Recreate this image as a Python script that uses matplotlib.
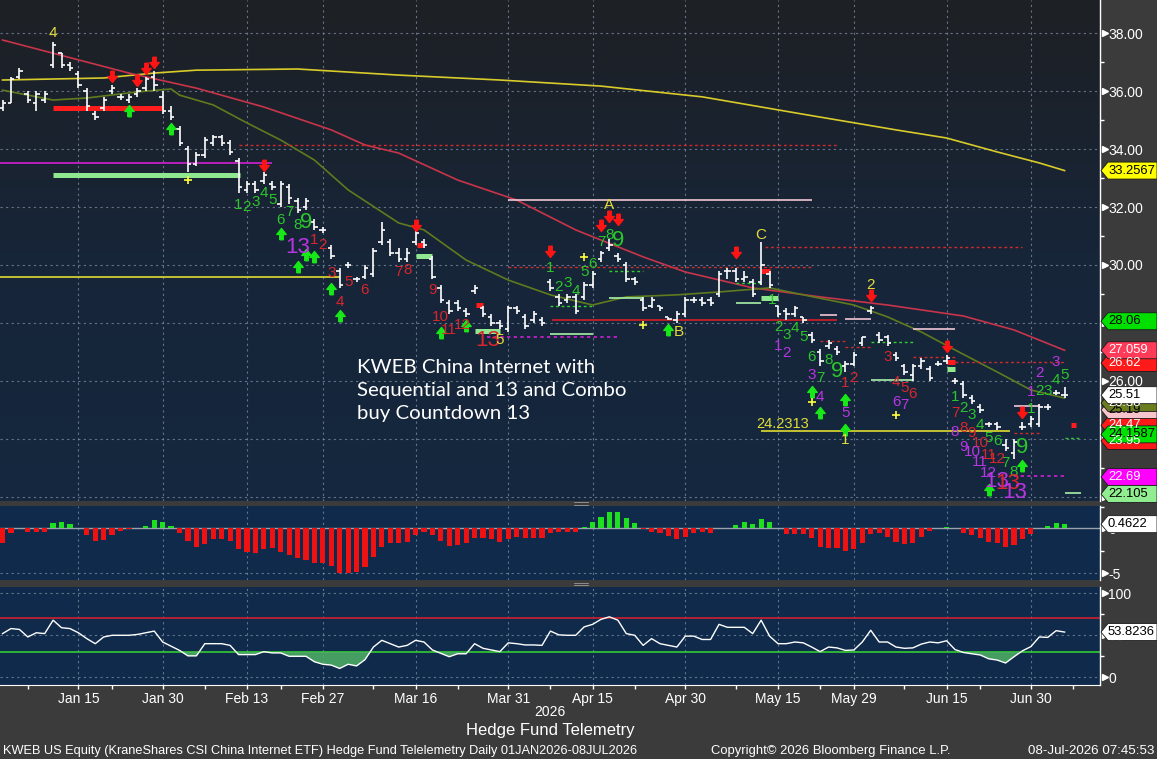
import numpy as np
import pandas as pd
import matplotlib
matplotlib.use("Agg")
import matplotlib.pyplot as plt
import matplotlib.transforms as mtransforms
from matplotlib.path import Path
from matplotlib.patches import Polygon
from matplotlib.lines import Line2D
from matplotlib.colors import LinearSegmentedColormap

plt.rcParams["font.family"] = ["Liberation Sans", "DejaVu Sans"]

# ---------------- data ----------------
holidays = ["2026-01-19", "2026-02-16", "2026-04-03", "2026-05-25", "2026-06-19", "2026-07-03"]
tick_dates = ["2026-01-15", "2026-01-30", "2026-02-13", "2026-02-27", "2026-03-16", "2026-03-31",
              "2026-04-15", "2026-04-30", "2026-05-15", "2026-05-29", "2026-06-15", "2026-06-30"]
minor_dates = ["2026-01-07", "2026-01-22", "2026-02-06", "2026-02-20", "2026-03-09", "2026-03-23",
               "2026-04-08", "2026-04-22", "2026-05-08", "2026-05-22", "2026-06-08", "2026-06-22",
               "2026-07-08"]

highs = [35.7, 36.5, 36.8, 36.0, 36.0, 36.0, 37.7, 37.3, 37.0, 36.7,
         36.1, 35.3, 35.8, 36.2, 35.9, 35.9, 36.1, 36.5, 36.7, 36.0,
         35.5, 34.8, 34.1, 33.9, 34.4, 34.5, 34.5, 34.3, 33.7, 32.9,
         32.9, 33.2, 32.9, 32.9, 32.8, 32.3, 32.3, 31.6, 31.3, 30.7,
         29.9, 30.1, 29.6, 30.0, 30.6, 31.5, 30.9, 30.6, 30.6, 31.5,
         30.9, 30.3, 29.3, 28.8, 28.8, 28.5, 29.3, 28.6, 28.3, 28.1,
         28.6, 28.6, 28.3, 28.4, 28.2, 29.5, 29.0, 29.0, 29.0, 29.4,
         29.8, 30.5, 30.9, 30.4, 30.1, 29.6, 28.9, 28.9, 28.6, 28.2,
         28.4, 28.9, 28.9, 28.9, 28.9, 29.8, 29.9, 29.9, 29.8, 29.5,
         30.8, 29.8, 28.6, 28.5, 28.6, 28.2, 27.7, 27.1, 27.4, 27.2,
         26.7, 27.0, 27.5, 28.6, 27.7, 27.6, 27.0, 26.6, 26.6, 26.8,
         26.5, 26.7, 26.9, 26.1, 26.0, 25.5, 25.2, 24.6, 24.6, 24.0,
         24.0, 24.6, 24.8, 25.2, 25.2, 25.7, 25.8]
lows = [35.3, 35.6, 36.4, 35.6, 35.3, 35.6, 36.8, 36.8, 36.7, 36.1,
        35.3, 35.0, 35.3, 35.9, 35.7, 35.6, 35.8, 36.0, 36.0, 35.2,
        35.0, 34.1, 33.2, 33.4, 33.7, 34.1, 34.1, 33.8, 32.5, 32.5,
        32.5, 32.8, 32.6, 32.0, 32.1, 31.8, 31.9, 31.2, 31.1, 30.2,
        29.2, 29.9, 29.4, 29.5, 29.6, 30.7, 30.3, 30.1, 30.1, 30.7,
        30.6, 29.5, 28.7, 28.3, 28.4, 28.2, 29.0, 28.2, 27.9, 27.8,
        27.7, 28.3, 27.8, 28.0, 27.9, 29.1, 28.6, 28.7, 28.3, 28.8,
        29.2, 30.1, 30.5, 30.1, 29.4, 29.3, 28.4, 28.5, 28.4, 28.1,
        28.0, 28.2, 28.7, 28.6, 28.6, 28.9, 29.5, 29.4, 29.4, 28.9,
        29.3, 29.2, 28.2, 28.1, 28.2, 28.0, 27.3, 26.5, 27.1, 26.9,
        26.3, 26.5, 27.2, 28.3, 27.3, 27.2, 26.7, 26.2, 26.0, 26.4,
        26.0, 26.5, 26.6, 25.9, 25.4, 25.2, 24.9, 24.4, 24.3, 23.6,
        23.3, 24.3, 24.4, 24.4, 25.0, 25.5, 25.4]
opens = [35.4, 35.6, 36.5, 35.9, 35.6, 35.7, 36.9, 37.3, 36.9, 36.6,
         36.0, 35.2, 35.4, 36.0, 35.8, 35.7, 35.9, 36.1, 36.5, 35.8,
         35.3, 34.7, 34.0, 33.5, 33.8, 34.2, 34.4, 34.2, 33.6, 32.6,
         32.8, 32.9, 32.8, 32.1, 32.7, 32.2, 32.0, 31.5, 31.2, 30.6,
         29.8, 30.0, 29.5, 29.6, 29.7, 30.8, 30.8, 30.4, 30.2, 30.8,
         30.8, 30.2, 29.2, 28.7, 28.7, 28.4, 29.1, 28.5, 28.2, 28.0,
         27.8, 28.5, 28.2, 28.1, 28.1, 29.4, 28.9, 28.8, 28.9, 28.9,
         29.3, 30.2, 30.6, 30.3, 30.0, 29.5, 28.8, 28.6, 28.6, 28.2,
         28.1, 28.3, 28.8, 28.8, 28.8, 29.0, 29.8, 29.8, 29.5, 29.4,
         29.4, 29.7, 28.6, 28.4, 28.3, 28.2, 27.6, 27.0, 27.2, 27.1,
         26.5, 26.6, 27.3, 28.4, 27.6, 27.5, 26.9, 26.5, 26.2, 26.5,
         26.4, 26.6, 26.7, 26.0, 25.9, 25.4, 25.1, 24.5, 24.5, 23.8,
         23.5, 24.4, 24.5, 24.5, 25.1, 25.6, 25.5]
closes = [35.6, 36.4, 36.7, 35.7, 35.9, 35.9, 37.6, 36.9, 36.8, 36.2,
          35.5, 35.1, 35.7, 36.1, 35.8, 35.8, 36.0, 36.4, 36.2, 35.3,
          35.1, 34.2, 33.5, 33.8, 34.3, 34.4, 34.2, 33.9, 32.7, 32.8,
          32.6, 33.1, 32.7, 32.8, 32.3, 31.9, 32.2, 31.3, 31.2, 30.3,
          29.3, 30.0, 29.5, 29.9, 30.5, 31.2, 30.4, 30.2, 30.4, 31.1,
          30.7, 29.6, 28.8, 28.4, 28.5, 28.3, 29.2, 28.3, 28.0, 27.9,
          28.5, 28.4, 27.9, 28.3, 28.0, 29.2, 28.7, 28.9, 28.4, 29.3,
          29.7, 30.4, 30.7, 30.2, 29.5, 29.4, 28.5, 28.8, 28.5, 28.15,
          28.3, 28.8, 28.8, 28.7, 28.7, 29.7, 29.8, 29.5, 29.6, 29.0,
          30.0, 29.3, 28.3, 28.3, 28.5, 28.1, 27.4, 26.7, 27.3, 27.0,
          26.6, 26.9, 27.5, 28.5, 27.4, 27.3, 26.8, 26.3, 26.5, 26.7,
          26.1, 26.6, 26.8, 26.0, 25.5, 25.3, 25.0, 24.5, 24.4, 23.7,
          23.9, 24.4, 24.7, 25.1, 25.1, 25.6, 25.51]

# moving averages (trading-day index, value)
ma_yellow_days = [0, 12, 18, 23, 35, 47, 59, 71, 83, 95, 106, 112, 118, 123, 126]
ma_yellow = [36.38, 36.45, 36.62, 36.72, 36.76, 36.55, 36.38, 36.17, 35.8, 35.2,
             34.66, 34.38, 33.9, 33.52, 33.2567]
ma_red_days = [0, 15, 23, 31, 39, 43, 47, 54, 61, 68, 76, 81, 89, 97, 105, 114, 120, 126]
ma_red = [37.76, 36.62, 36.1, 35.45, 34.66, 34.14, 33.86, 32.93, 32.24, 31.21,
          30.28, 29.76, 29.21, 28.9, 28.62, 28.24, 27.76, 27.059]
ma_olive_days = [0, 6, 10, 16, 20, 21, 25, 29, 33, 37, 41, 47, 50, 55, 60, 65, 70, 74,
                 80, 85, 91, 95, 101, 105, 109, 113, 118, 122, 126]
ma_olive = [36.03, 35.69, 35.76, 35.97, 36.07, 35.86, 35.52, 34.9, 34.31, 33.62, 32.59,
            31.45, 31.21, 30.17, 29.48, 28.97, 28.62, 28.9, 28.97, 29.07, 29.21, 28.97,
            28.62, 28.21, 27.69, 27.07, 26.31, 25.69, 25.41]

macd_hist = [-1.67, -0.55, 0.0, -0.37, -0.37, -0.37, 0.55, 0.67, 0.48, 0.0,
             -0.74, -1.37, -1.3, -0.74, -0.3, -0.1, 0.0, 0.26, 0.93, 0.67,
             0.26, -0.48, -1.37, -2.04, -1.78, -1.22, -1.22, -1.37, -2.3, -2.6,
             -2.78, -2.33, -2.22, -2.6, -2.96, -3.33, -3.52, -3.81, -3.89, -4.19,
             -4.93, -4.93, -4.81, -4.26, -3.22, -2.04, -1.59, -1.67, -1.48, -0.74,
             -0.37, -0.74, -1.37, -1.96, -1.89, -1.67, -1.04, -1.04, -1.22, -1.48,
             -1.22, -0.93, -1.11, -1.11, -1.11, -0.48, -0.37, -0.37, -0.37, 0.19,
             0.74, 1.3, 1.85, 1.78, 1.11, 0.55, -0.1, -0.37, -0.55, -0.85,
             -1.19, -0.93, -0.48, -0.37, -0.48, 0.07, 0.02, 0.37, 0.67, 0.48,
             1.04, 0.67, 0.0, -0.67, -0.67, -0.67, -1.11, -2.04, -2.15, -2.15,
             -2.48, -2.33, -1.67, -0.67, -0.55, -0.93, -1.48, -1.78, -1.59, -0.96,
             -0.26, 0.0, 0.19, 0.0, -0.48, -0.74, -1.11, -1.48, -1.67, -2.11,
             -1.85, -1.22, -0.63, 0.05, 0.26, 0.55, 0.4622]

rsi = [52, 58, 57, 48, 53, 52, 68, 59, 58, 53,
       46, 40, 48, 50, 50, 50, 51, 53, 55, 42,
       37, 32, 25.5, 25.5, 40, 40, 40, 38, 27, 27,
       27, 30.5, 29, 29, 25, 25, 25, 18.5, 15.5, 14.5,
       10.5, 15.5, 13.5, 21, 36, 44, 40, 36, 38, 44,
       42, 32.5, 28.5, 24.5, 28, 28, 40, 34.5, 32.5, 30.5,
       41, 40, 38.5, 38.5, 38, 55, 50.5, 50, 50, 60,
       63, 69, 72, 68, 52, 50, 38, 46, 40, 38,
       36, 49, 49, 45, 45, 63, 59.5, 59.5, 59.5, 52,
       68, 49, 40, 40, 42, 41, 36, 30.5, 36, 35,
       32, 32.5, 42, 56, 42, 42, 36, 34.5, 35, 39.5,
       42, 41, 43.5, 33, 29.5, 28, 26.5, 22, 20.5, 17,
       24.5, 31.5, 36.5, 48, 47.5, 55.5, 53.8236]

# TD sequential arrows (day, price)
sell_arrows = [(13, 36.48), (16, 36.34), (17, 36.76), (18, 36.97), (31, 33.41), (49, 31.34),
               (65, 30.45), (71, 31.34), (72, 31.66), (73, 31.55), (87, 30.41), (103, 28.93),
               (112, 27.17), (121, 24.9)]
buy_arrows = [(15, 35.34), (20, 34.72), (33, 31.1), (35, 29.97), (36, 30.38), (37, 30.31),
              (39, 29.21), (40, 28.28), (52, 27.69), (55, 27.93), (79, 27.79), (96, 25.66),
              (97, 24.93), (100, 25.38), (100, 24.34), (117, 22.28), (121, 23.1)]
yellow_plus = [(22, 32.93), (69, 30.28), (76, 27.93), (96, 25.28), (106, 24.83)]

# TD count labels (day, price, text, colour key, big)
labels = [
    (6, 38.0, "4", "y", 0),
    (28, 32.07, "1", "g", 0), (29, 32.0, "2", "g", 0), (30, 32.17, "3", "g", 0),
    (31, 32.48, "4", "g", 0), (32, 32.24, "5", "g", 0), (33, 31.55, "6", "g", 0),
    (34, 31.83, "7", "g", 0), (35, 31.38, "8", "g", 0), (36, 31.45, "9", "g", 1),
    (37, 30.86, "1", "r", 0), (38, 30.69, "2", "r", 0), (39, 29.72, "3", "r", 0),
    (40, 28.72, "4", "r", 0), (41, 29.41, "5", "r", 0), (43, 29.14, "6", "r", 0),
    (47, 29.76, "7", "r", 0), (48, 29.83, "8", "r", 0), (51, 29.14, "9", "r", 0),
    (52, 28.2, "10", "r", 0), (53, 27.76, "11", "r", 0), (54.6, 27.93, "12", "r", 0),
    (57.5, 27.41, "13", "r", 1), (35, 30.62, "13", "m", 1), (59, 27.41, "5", "y", 0),
    (65, 29.9, "1", "g", 0), (66, 29.24, "2", "g", 0), (67, 29.38, "3", "g", 0),
    (68, 29.1, "4", "g", 0), (69, 29.76, "5", "g", 0), (70, 30.03, "6", "g", 0),
    (71, 30.79, "7", "g", 0), (72, 31.03, "8", "g", 0), (73, 30.86, "9", "g", 1),
    (72, 32.07, "A", "y", 0), (80.2, 27.69, "B", "y", 0), (90, 31.03, "C", "y", 0),
    (91.3, 28.8, "1", "g", 0), (92, 27.86, "2", "g", 0), (93, 27.59, "3", "g", 0),
    (94, 27.83, "4", "g", 0), (95, 27.52, "5", "g", 0), (96, 26.83, "6", "g", 0),
    (97, 26.1, "7", "g", 0), (98, 26.72, "8", "g", 0), (99, 26.31, "9", "g", 1),
    (92, 27.21, "1", "m", 0), (93, 26.97, "2", "m", 0), (96, 26.21, "3", "m", 0),
    (97, 25.45, "4", "m", 0), (100, 24.9, "5", "m", 0),
    (100, 25.93, "1", "r", 0), (101, 26.1, "2", "r", 0), (100, 23.97, "1", "y", 0),
    (103, 29.31, "2", "y", 0), (105, 26.83, "3", "r", 0), (106, 25.97, "4", "r", 0),
    (107, 25.76, "5", "r", 0), (108, 25.55, "6", "r", 0),
    (106, 25.28, "6", "m", 0), (107, 25.17, "7", "m", 0),
    (113, 25.45, "1", "g", 0), (114, 25.07, "2", "g", 0), (115, 24.83, "3", "g", 0),
    (116, 24.48, "4", "g", 0), (117, 24.03, "5", "g", 0), (118, 23.93, "6", "g", 0),
    (119, 23.17, "7", "g", 0), (120, 22.86, "8", "g", 0), (121, 23.72, "9", "g", 1),
    (113, 24.9, "7", "r", 0), (114, 24.38, "8", "r", 0), (115, 24.21, "9", "r", 0),
    (116, 23.86, "10", "r", 0), (117, 23.45, "11", "r", 0), (118, 23.31, "12", "r", 0),
    (113, 24.24, "8", "m", 0), (114, 23.72, "9", "m", 0), (115, 23.55, "10", "m", 0),
    (116, 23.21, "11", "m", 0), (117, 22.83, "12", "m", 0),
    (118, 22.52, "13", "m", 1), (119.2, 22.48, "13", "r", 1), (120.1, 22.14, "13", "m", 1),
    (122, 25.62, "1", "m", 0), (123, 26.28, "2", "m", 0), (125, 26.66, "3", "m", 0),
    (122, 25.03, "1", "g", 0), (123, 25.66, "2", "g", 0), (124, 25.66, "3", "g", 0),
    (125, 26.03, "4", "g", 0), (126, 26.2, "5", "g", 0),
]

# TDST / risk lines (start day, end day, price, style key)
segments = [
    (6.0, 19.0, 35.4, "R"), (6.0, 28.2, 33.1, "G"), (-0.5, 32.0, 33.52, "m"),
    (28.0, 99.1, 34.14, "rd"), (-0.5, 40.0, 29.6, "y"),
    (60.0, 96.0, 32.24, "p"), (60.0, 96.0, 29.94, "rd"), (90.5, 121.0, 30.63, "rd"),
    (65.2, 99.0, 28.1, "r"), (72.0, 76.0, 29.79, "gd"), (72.0, 76.0, 28.86, "lg"),
    (65.0, 70.0, 28.59, "gd"), (65.0, 70.0, 27.62, "lg"), (57.5, 73.0, 27.52, "md"),
    (56.0, 59.0, 27.71, "G"), (49.0, 51.0, 30.31, "G"), (49.2, 50.0, 30.69, "R"),
    (56.2, 57.0, 28.62, "R"),
    (87.0, 90.0, 28.69, "lg"), (87.0, 90.0, 29.38, "gd"), (90.0, 92.0, 28.85, "G"),
    (90.0, 91.0, 29.8, "R"),
    (97.0, 99.0, 28.28, "p"), (100.0, 103.0, 28.14, "p"), (108.0, 113.0, 27.79, "p"),
    (97.0, 100.0, 27.38, "rd"), (100.0, 103.0, 27.17, "rd"), (108.0, 113.0, 26.83, "rd"),
    (113.0, 126.0, 26.66, "rd"),
    (103.0, 108.0, 27.34, "gd"), (103.0, 108.0, 26.03, "lg"),
    (90.0, 119.5, 24.28, "y"),
    (112.0, 113.0, 26.65, "R"), (112.0, 113.0, 26.43, "G"),
    (120.0, 123.0, 25.14, "p"), (120.0, 123.0, 24.21, "rd"),
    (126.8, 127.4, 24.48, "R"),
    (126.0, 128.0, 24.03, "gd"), (120.0, 126.0, 22.72, "md"), (126.0, 128.0, 22.14, "lg"),
]

# right-hand value tags (value, text, face, text colour) in drawing order
price_tags = [
    (23.93, "23.95", "#ff1a1a", "white"),
    (24.47, "24.47", "#ff1a1a", "white"),
    (24.1587, "24.1587", "#00e000", "black"),
    (25.0, "25.19", "#f7c4cc", "black"),
    (25.24, "25.38", "#6b7d1f", "white"),
    (25.51, "25.51", "white", "black"),
    (26.62, "26.62", "#ff1a1a", "white"),
    (27.059, "27.059", "#ff3b5a", "white"),
    (28.06, "28.06", "#00e000", "black"),
    (33.2567, "33.2567", "#ffff00", "black"),
    (22.69, "22.69", "#ff00ff", "white"),
    (22.105, "22.105", "#90ee90", "black"),
]

# ---------------- helpers ----------------
W, H = 1157, 759
days = pd.bdate_range("2026-01-02", "2026-07-31", freq="C", holidays=holidays)
day_pos = {d.strftime("%Y-%m-%d"): k for k, d in enumerate(days)}
x = np.arange(len(closes))

COL = {"g": "#2cc52c", "r": "#d8262c", "m": "#b935e2", "y": "#e4dc3a"}
SEG = {"R": ("#ff1c1c", "-", 3.6), "G": ("#8fe88f", "-", 3.6), "m": ("#d21fd2", "-", 1.2),
       "rd": ("#d02a2a", (0, (2, 2)), 1.0), "y": ("#e2dc30", "-", 1.2),
       "p": ("#f2c6d6", "-", 1.2), "r": ("#c81e28", "-", 1.3), "gd": ("#2fd02f", (0, (2, 2)), 1.0),
       "lg": ("#a8f0a8", "-", 1.2), "md": ("#d21fd2", (0, (2, 2)), 1.2)}
GRID = dict(color="#7f8ea6", lw=0.8, ls=(0, (2, 3)), alpha=0.75, zorder=0.5)


def rect(x0, y0, x1, y1):
    return [x0 / W, 1 - y1 / H, (x1 - x0) / W, (y1 - y0) / H]


fig = plt.figure(figsize=(W / 100, H / 100), dpi=100)
fig.patch.set_facecolor("#3b3b3b")
ax = fig.add_axes(rect(0, 0, 1100, 501))
axm = fig.add_axes(rect(0, 506, 1100, 580), sharex=ax)
axr = fig.add_axes(rect(0, 587, 1100, 685), sharex=ax)

for a in (ax, axm, axr):
    for s in ("top", "left", "bottom"):
        a.spines[s].set_visible(False)
    a.spines["right"].set_color("white")
    a.spines["right"].set_linewidth(1.0)
    a.yaxis.tick_right()
    a.tick_params(axis="y", which="major", colors="white", labelsize=10, length=0, pad=6)
    a.tick_params(axis="y", which="minor", colors="white", length=3, width=1)

# panel backgrounds
grad = np.linspace(0, 1, 256).reshape(-1, 1)
ax.imshow(grad, cmap=LinearSegmentedColormap.from_list("bg", ["#1e2024", "#172538", "#14283f"]),
          extent=[0, 1, 0, 1], transform=ax.transAxes, aspect="auto", zorder=-5)
axm.set_facecolor("#0f2a4a")
axr.set_facecolor("#0f2a4a")

ax.set_xlim(-0.3, 130.2)
ax.set_ylim(21.86, 39.14)
axm.set_ylim(-5.74, 2.48)
axr.set_ylim(-9.2, 107.5)

tick_pos = [day_pos[d] for d in tick_dates]
minor_pos = [day_pos[d] for d in minor_dates]
for a in (ax, axm, axr):
    for t in tick_pos:
        a.axvline(t, **GRID)

# ---------------- price panel ----------------
for v in range(22, 40, 2):
    ax.axhline(v, **GRID)
ax.set_yticks(range(22, 40, 2))
ax.set_yticklabels([f"{v:.2f}" for v in range(22, 40, 2)])
ax.set_yticks(np.arange(23, 39, 2), minor=True)
ax.tick_params(axis="x", which="both", length=0, labelbottom=False)

ax.plot(ma_yellow_days, ma_yellow, color="#d8cb2a", lw=1.2, zorder=2)
ax.plot(ma_red_days, ma_red, color="#c8344a", lw=1.2, zorder=2)
ax.plot(ma_olive_days, ma_olive, color="#5f7b1e", lw=1.2, zorder=2)

for d0, d1, p, key in segments:
    c, ls, lw = SEG[key]
    ax.hlines(p, d0, d1, colors=c, linestyles=ls, lw=lw, zorder=2.5)

ax.vlines(x, lows, highs, color="white", lw=1.2, zorder=3)
ax.hlines(opens, x - 0.4, x, color="white", lw=1.2, zorder=3)
ax.hlines(closes, x, x + 0.4, color="white", lw=1.2, zorder=3)

down = Path([(-0.28, 1.0), (0.28, 1.0), (0.28, 0.15), (0.75, 0.15), (0.0, -0.8),
             (-0.75, 0.15), (-0.28, 0.15), (-0.28, 1.0)])
up = Path([(vx, -vy) for vx, vy in down.vertices])
sd, sp = zip(*sell_arrows)
ax.plot(sd, sp, ls="", marker=down, ms=9, color="#ff1414", zorder=4)
bd, bp = zip(*buy_arrows)
ax.plot(bd, bp, ls="", marker=up, ms=9, color="#18e818", zorder=4)
yd, yp = zip(*yellow_plus)
ax.plot(yd, yp, ls="", marker="+", ms=6, mew=1.2, color="#ffff40", zorder=4)

for d, p, txt, ck, big in labels:
    ax.text(d, p, txt, color=COL[ck], fontsize=16 if big else 11,
            ha="center", va="center", zorder=5)
ax.text(92.6, 24.52, "24.2313", color=COL["y"], fontsize=10.5, ha="center", va="center", zorder=5)

ax.text(357 / 1100, 1 - 359 / 501,
        "KWEB China Internet with\nSequential and 13 and Combo\nbuy Countdown 13",
        transform=ax.transAxes, color="white", fontsize=14.7, va="top", ha="left",
        family=["Lato", "DejaVu Sans"], linespacing=1.42, zorder=6)

# ---------------- MACD histogram panel ----------------
hist = np.array(macd_hist)
axm.bar(x, hist, width=0.62, color=np.where(hist > 0, "#1fe01f", "#ee1212"), zorder=2)
axm.axhline(0, color="#9aa3ad", lw=1.0, zorder=1.5)
axm.axhline(-5, **GRID)
axm.set_yticks([-5, 0])
axm.set_yticklabels(["-5", "0"])
axm.set_yticks([-2.5, 2.4], minor=True)
axm.tick_params(axis="x", which="both", length=0, labelbottom=False)

# ---------------- RSI panel ----------------
rs = np.array(rsi, dtype=float)
for v in (0, 50, 100):
    axr.axhline(v, **GRID)
axr.axhline(70, color="#cc2030", lw=1.2, zorder=1.5)
axr.axhline(30, color="#33cc33", lw=1.2, zorder=1.5)
axr.fill_between(x, rs, 30, where=rs < 30, interpolate=True, color="#4fb266", alpha=0.85,
                 lw=0, zorder=1.6)
axr.plot(x, rs, color="white", lw=1.0, zorder=3)
axr.set_yticks([0, 50, 100])
axr.set_yticklabels(["0", "50", "100"])
axr.set_yticks([25, 75], minor=True)
axr.spines["bottom"].set_visible(True)
axr.spines["bottom"].set_color("white")
axr.set_xticks(tick_pos)
axr.set_xticklabels([pd.Timestamp(d).strftime("%b %d") for d in tick_dates])
axr.set_xticks(minor_pos, minor=True)
axr.tick_params(axis="x", which="both", colors="white", labelsize=10, length=3.2, width=1,
                direction="out", pad=1.5)

# small right-pointing triangles at the major value ticks
for a, vals in ((ax, range(22, 40, 2)), (axm, [-5, 0]), (axr, [0, 50, 100])):
    tr = mtransforms.blended_transform_factory(a.transAxes, a.transData)
    a.plot([1.0045] * len(vals), list(vals), ls="", marker=">", ms=4.5, color="white",
           transform=tr, clip_on=False, zorder=6)


# value tags on the right
def tag(a, value, text, face, fg):
    yf = a.transData.transform((0, value))[1] / fig.bbox.height
    h = 8.5 / H
    xa, xb, xc = 1101 / W, 1108 / W, 1.0
    fig.add_artist(Polygon([(xa, yf), (xb, yf + h), (xc, yf + h), (xc, yf - h), (xb, yf - h)],
                           closed=True, transform=fig.transFigure, fc=face, ec="#1a1a1a",
                           lw=0.6, zorder=5))
    fig.text(1108 / W, yf, text, color=fg, fontsize=9.4, va="center", ha="left", zorder=6)


for v, t, f, c in price_tags:
    tag(ax, v, t, f, c)
tag(axm, 0.4622, "0.4622", "white", "black")
tag(axr, 53.8236, "53.8236", "white", "black")

# panel separator grips
for yy in (503.5, 583.5):
    for dy in (-1, 1):
        fig.add_artist(Line2D([574 / W, 588 / W], [1 - (yy + dy) / H] * 2, color="#9a9a9a", lw=0.6))

# bottom texts
fig.text(550 / W, 1 - 712 / H, "2026", color="white", fontsize=10, ha="center", va="center")
fig.text(550 / W, 1 - 731 / H, "Hedge Fund Telemetry", color="white", fontsize=12,
         ha="center", va="center")
fig.text(3 / W, 1 - 751 / H,
         "KWEB US Equity (KraneShares CSI China Internet ETF) Hedge Fund Telelemetry Daily "
         "01JAN2026-08JUL2026", color="white", fontsize=9.2, ha="left", va="center")
fig.text(711 / W, 1 - 751 / H, "Copyright\u00a9 2026 Bloomberg Finance L.P.", color="white",
         fontsize=9.35, ha="left", va="center")
fig.text(1154 / W, 1 - 751 / H, "08-Jul-2026 07:45:53", color="white", fontsize=9.6,
         ha="right", va="center")

fig.savefig("out.png", dpi=100, facecolor=fig.get_facecolor())
